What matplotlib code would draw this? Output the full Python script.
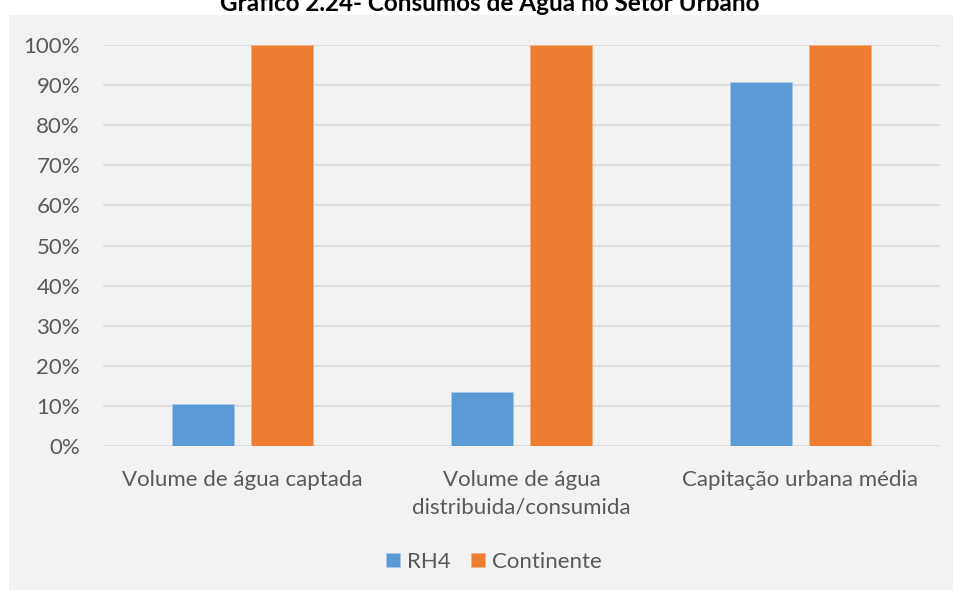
import matplotlib
matplotlib.use("Agg")
import matplotlib.pyplot as plt
from matplotlib.patches import Rectangle
import numpy as np

categories = ["Volume de água captada", "Volume de água\ndistribuida/consumida", "Capitação urbana média"]
rh4 = [0.105, 0.135, 0.908]
continente = [1.0, 1.0, 1.0]
series_names = ["RH4", "Continente"]
yticks = [0, 0.1, 0.2, 0.3, 0.4, 0.5, 0.6, 0.7, 0.8, 0.9, 1.0]
title = "Gráfico 2.24- Consumos de Água no Setor Urbano"

plt.rcParams['font.family'] = ['Lato', 'DejaVu Sans']

W, H = 954, 590
fig = plt.figure(figsize=(W/100, H/100), dpi=100)
fig.patch.set_facecolor("white")
bg = Rectangle((9/W, 0), 1 - 9/W, (H-15)/H, transform=fig.transFigure,
               facecolor="#f2f2f2", edgecolor="none", zorder=-5)
fig.patches.append(bg)

ax = fig.add_axes([103/W, (H-446)/H, (940-103)/W, (446-45)/H])
ax.set_facecolor("none")
ax.set_zorder(2)
x = np.arange(len(categories))
w = 0.222
off = 0.1416
ax.bar(x - off, rh4, w, color="#5b9bd5", edgecolor="#a9c8e8", linewidth=0.6, label=series_names[0], zorder=3)
ax.bar(x + off, continente, w, color="#ed7d31", edgecolor="#f4b183", linewidth=0.6, label=series_names[1], zorder=3)

ax.set_xlim(-0.5, 2.5)
ax.set_ylim(0, 1)
ax.set_yticks(yticks)
ax.set_yticklabels([f"{int(round(v*100))}%" for v in yticks])
ax.set_xticks(x)
ax.set_xticklabels(categories, linespacing=1.5)
ax.tick_params(axis="both", length=0, colors="#595959", labelsize=16)
ax.tick_params(axis="y", pad=16.5)
ax.tick_params(axis="x", pad=17)
for s in ax.spines.values():
    s.set_visible(False)
ax.yaxis.grid(True, color="#d9d9d9", linewidth=1.2, zorder=0)
ax.set_axisbelow(True)

leg = fig.legend(loc="center", bbox_to_anchor=(494/W, (H-562)/H), ncol=2, frameon=False,
                 fontsize=16, handlelength=0.62, handleheight=0.62, handletextpad=0.3,
                 columnspacing=0.95, labelcolor="#595959")
leg.set_zorder(3)

fig.text(490/W, (H-11)/H, title, ha="center", va="baseline", fontsize=17.5,
         fontweight="bold", color="black", zorder=3)

fig.savefig("out.png", dpi=100, facecolor=fig.get_facecolor())
